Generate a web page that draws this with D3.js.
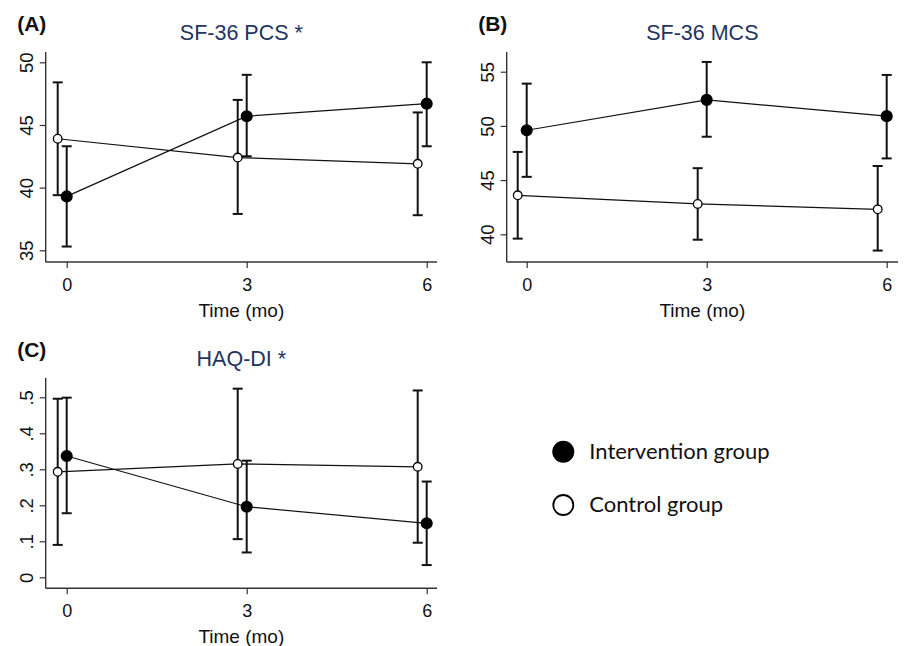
<!DOCTYPE html>
<html>
<head>
<meta charset="utf-8">
<script src="https://cdn.jsdelivr.net/npm/d3@7"></script>
<style>
  body { margin: 0; background: #fff; }
  svg { display: block; }
</style>
</head>
<body>
<script>
// months and values
var months = [0, 3, 6];

var pcsInt   = [39.3, 45.7, 46.7],
    pcsIntLo = [35.3, 42.5, 43.3],
    pcsIntHi = [43.3, 49.0, 50.0];
var pcsCtl   = [43.9, 42.4, 41.9],
    pcsCtlLo = [39.4, 37.9, 37.8],
    pcsCtlHi = [48.4, 47.0, 46.0];

var mcsInt   = [49.6, 52.4, 50.9],
    mcsIntLo = [45.3, 49.0, 47.0],
    mcsIntHi = [53.9, 55.9, 54.7];
var mcsCtl   = [43.6, 42.8, 42.3],
    mcsCtlLo = [39.6, 39.5, 38.5],
    mcsCtlHi = [47.6, 46.1, 46.3];

var haqInt   = [0.337, 0.196, 0.150],
    haqIntLo = [0.178, 0.069, 0.034],
    haqIntHi = [0.499, 0.324, 0.266];
var haqCtl   = [0.293, 0.315, 0.307],
    haqCtlLo = [0.090, 0.106, 0.096],
    haqCtlHi = [0.496, 0.524, 0.519];

var pcsTicks = [35, 40, 45, 50],
    mcsTicks = [40, 45, 50, 55],
    haqTicks = [0, 0.1, 0.2, 0.3, 0.4, 0.5];

var legendLabels = ["Intervention group", "Control group"];

var W = 904, H = 646;
var ctlShift = -0.15;   // control group drawn slightly left of the time point
var sans = "'Liberation Sans', Arial, Helvetica, sans-serif";

var svg = d3.select("body").append("svg")
    .attr("width", W)
    .attr("height", H);

function series(vals, lo, hi) {
    return months.map(function(m, i) { return {t: m, v: vals[i], lo: lo[i], hi: hi[i]}; });
}

function drawPanel(p) {
    var g = svg.append("g");
    var x = d3.scaleLinear().domain([0, 6]).range([p.x0, p.x6]);
    var y = d3.scaleLinear().domain(p.yDom).range(p.yRange);

    // axis lines
    g.append("line")
        .attr("x1", p.left).attr("x2", p.right)
        .attr("y1", p.bottom).attr("y2", p.bottom)
        .attr("stroke", "#333").attr("stroke-width", 1.4);
    g.append("line")
        .attr("x1", p.left).attr("x2", p.left)
        .attr("y1", p.top).attr("y2", p.bottom)
        .attr("stroke", "#333").attr("stroke-width", 1.4);

    var xAxis = d3.axisBottom(x).tickValues(months).tickSize(6).tickPadding(10).tickFormat(d3.format("d"));
    var gx = g.append("g")
        .attr("transform", "translate(0," + p.bottom + ")")
        .call(xAxis)
        .attr("font-family", sans)
        .attr("font-size", 18);
    gx.select(".domain").remove();
    gx.selectAll("line").attr("stroke", "#333").attr("stroke-width", 1.2);
    gx.selectAll("text").attr("fill", "#111");

    var yAxis = d3.axisLeft(y).tickValues(p.ticks).tickSize(6).tickFormat(p.fmt);
    var gy = g.append("g")
        .attr("transform", "translate(" + p.left + ",0)")
        .call(yAxis)
        .attr("font-family", sans)
        .attr("font-size", 18.5);
    gy.select(".domain").remove();
    gy.selectAll("line").attr("stroke", "#333").attr("stroke-width", 1.2);
    gy.selectAll("text")
        .attr("x", 0).attr("y", -13).attr("dy", 0)
        .attr("text-anchor", "middle")
        .attr("transform", "rotate(-90)")
        .attr("fill", "#111");

    // axis title
    g.append("text")
        .attr("x", (p.left + p.right) / 2)
        .attr("y", p.bottom + 55)
        .attr("text-anchor", "middle")
        .attr("font-family", sans).attr("font-size", 19)
        .attr("fill", "#111")
        .text("Time (mo)");

    // panel title and letter
    g.append("text")
        .attr("x", (p.left + p.right) / 2)
        .attr("y", p.top - 12)
        .attr("text-anchor", "middle")
        .attr("font-family", sans).attr("font-size", 21.5)
        .attr("fill", "#25335f")
        .text(p.title);
    g.append("text")
        .attr("x", p.left - 28.5)
        .attr("y", p.top - 21)
        .attr("font-family", sans).attr("font-size", 21).attr("font-weight", "bold")
        .attr("fill", "#111")
        .text(p.letter);

    var line = d3.line()
        .x(function(d) { return x(d.t + d.shift); })
        .y(function(d) { return y(d.v); });

    [{data: p.ctl, shift: ctlShift, fill: "#fff", r: 4.3},
     {data: p.int, shift: 0, fill: "#000", r: 5.4}].forEach(function(s) {
        var pts = s.data.map(function(d) { return Object.assign({shift: s.shift}, d); });

        g.append("path")
            .datum(pts)
            .attr("fill", "none")
            .attr("stroke", "#111")
            .attr("stroke-width", 1.2)
            .attr("d", line);

        var eb = g.selectAll(null).data(pts).enter().append("g")
            .attr("stroke", "#111").attr("stroke-width", 2);
        eb.append("line")
            .attr("x1", function(d) { return x(d.t + d.shift); })
            .attr("x2", function(d) { return x(d.t + d.shift); })
            .attr("y1", function(d) { return y(d.lo); })
            .attr("y2", function(d) { return y(d.hi); });
        eb.append("line")
            .attr("x1", function(d) { return x(d.t + d.shift) - 5; })
            .attr("x2", function(d) { return x(d.t + d.shift) + 5; })
            .attr("y1", function(d) { return y(d.lo); })
            .attr("y2", function(d) { return y(d.lo); });
        eb.append("line")
            .attr("x1", function(d) { return x(d.t + d.shift) - 5; })
            .attr("x2", function(d) { return x(d.t + d.shift) + 5; })
            .attr("y1", function(d) { return y(d.hi); })
            .attr("y2", function(d) { return y(d.hi); });

        g.selectAll(null).data(pts).enter().append("circle")
            .attr("cx", function(d) { return x(d.t + d.shift); })
            .attr("cy", function(d) { return y(d.v); })
            .attr("r", s.r)
            .attr("fill", s.fill)
            .attr("stroke", "#000")
            .attr("stroke-width", 1.3);
    });
}

function decFmt(d) { return d === 0 ? "0" : d3.format(".1f")(d).replace(/^0/, ""); }

drawPanel({
    letter: "(A)", title: "SF-36 PCS *",
    left: 45.7, right: 437, top: 52, bottom: 262,
    x0: 66.7, x6: 426.7,
    yDom: [35, 50], yRange: [250.3, 62.3],
    ticks: pcsTicks, fmt: d3.format("d"),
    int: series(pcsInt, pcsIntLo, pcsIntHi),
    ctl: series(pcsCtl, pcsCtlLo, pcsCtlHi)
});

drawPanel({
    letter: "(B)", title: "SF-36 MCS",
    left: 506.7, right: 898, top: 52, bottom: 262,
    x0: 526.7, x6: 886.7,
    yDom: [40, 55], yRange: [234.3, 71.7],
    ticks: mcsTicks, fmt: d3.format("d"),
    int: series(mcsInt, mcsIntLo, mcsIntHi),
    ctl: series(mcsCtl, mcsCtlLo, mcsCtlHi)
});

drawPanel({
    letter: "(C)", title: "HAQ-DI *",
    left: 45.7, right: 437, top: 378, bottom: 588.3,
    x0: 66.7, x6: 426.7,
    yDom: [0, 0.5], yRange: [577.3, 397.3],
    ticks: haqTicks, fmt: decFmt,
    int: series(haqInt, haqIntLo, haqIntHi),
    ctl: series(haqCtl, haqCtlLo, haqCtlHi)
});

// legend
var legend = svg.append("g").attr("transform", "translate(563.3,451.7)");
var leg = legend.selectAll("g").data(legendLabels).enter().append("g")
    .attr("transform", function(d, i) { return "translate(0," + (i * 53.3) + ")"; });
leg.append("circle")
    .attr("r", function(d, i) { return i === 0 ? 11 : 10; })
    .attr("fill", function(d, i) { return i === 0 ? "#000" : "#fff"; })
    .attr("stroke", "#000")
    .attr("stroke-width", function(d, i) { return i === 0 ? 0 : 1.8; });
leg.append("text")
    .attr("x", 26)
    .attr("y", 7)
    .attr("font-family", "Lato, 'Open Sans', sans-serif")
    .attr("font-size", 22)
    .attr("fill", "#111")
    .text(function(d) { return d; });
</script>
</body>
</html>
